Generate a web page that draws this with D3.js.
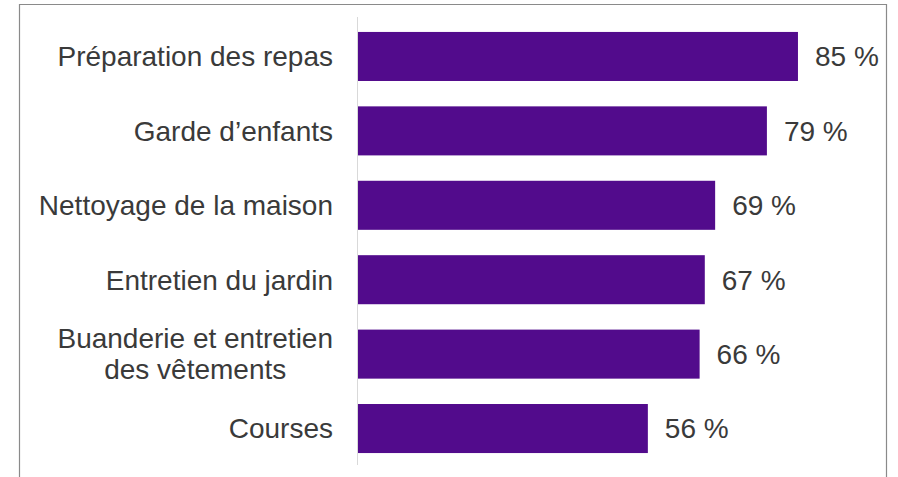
<!DOCTYPE html>
<html lang="fr">
<head>
<meta charset="utf-8">
<script src="https://cdn.jsdelivr.net/npm/d3@7"></script>
<style>
  html, body { margin: 0; padding: 0; background: #fff; }
  svg { display: block; }
  text { font-family: "Liberation Sans", Arial, sans-serif; fill: #3a3a3a; }
</style>
</head>
<body>
<svg id="chart" width="898" height="477"></svg>
<script>
// Part des tâches domestiques (en %)
const categories = [
  ["Préparation des repas"],
  ["Garde d’enfants"],
  ["Nettoyage de la maison"],
  ["Entretien du jardin"],
  ["Buanderie et entretien", "des vêtements"],
  ["Courses"]
];
const values = [85, 79, 69, 67, 66, 56];
const valueLabels = ["85 %", "79 %", "69 %", "67 %", "66 %", "56 %"];

const W = 898, H = 477;
const svg = d3.select("#chart");

// Frame around the chart (open at the bottom)
svg.append("path")
  .attr("d", `M19.5,${H} V4.5 H886.5 V${H}`)
  .attr("fill", "none")
  .attr("stroke", "#8a8a8a")
  .attr("stroke-width", 1.2);

const axisX = 358;
const x = d3.scaleLinear().domain([0, 100]).range([axisX, axisX + 517.6]);
const y = d3.scaleBand()
  .domain(d3.range(categories.length))
  .range([19.3, 465.7])
  .paddingInner(0.341)
  .paddingOuter(0.17);

// Vertical category axis line
svg.append("line")
  .attr("x1", axisX - 0.5).attr("x2", axisX - 0.5)
  .attr("y1", 17).attr("y2", 465)
  .attr("stroke", "#d9d9d9")
  .attr("stroke-width", 1);

// Bars
svg.append("g").selectAll("rect")
  .data(values)
  .join("rect")
  .attr("x", x(0))
  .attr("y", (d, i) => y(i))
  .attr("width", d => x(d) - x(0))
  .attr("height", y.bandwidth())
  .attr("fill", "#520b8c");

const fontSize = 28;
const lineH = 31;
const labelRight = axisX - 25;

// Category labels: each block is right-aligned against the axis,
// lines within a block are centred on one another
const cat = svg.append("g").selectAll("text")
  .data(categories)
  .join("text")
  .attr("text-anchor", "middle")
  .attr("font-size", fontSize)
  .attr("y", (d, i) => y(i) + y.bandwidth() / 2);

cat.selectAll("tspan")
  .data((lines) => lines.map((t, k) => ({ t, k, n: lines.length })))
  .join("tspan")
  .attr("dy", d => d.k === 0 ? (0.35 * fontSize - (d.n - 1) * lineH / 2) : lineH)
  .text(d => d.t);

cat.each(function () {
  const spans = d3.select(this).selectAll("tspan").nodes();
  const widest = d3.max(spans, s => s.getComputedTextLength());
  d3.select(this).selectAll("tspan").attr("x", labelRight - widest / 2);
});

// Value labels at the end of each bar
svg.append("g").selectAll("text")
  .data(values)
  .join("text")
  .attr("x", d => x(d) + 17)
  .attr("y", (d, i) => y(i) + y.bandwidth() / 2)
  .attr("dy", "0.35em")
  .attr("font-size", fontSize)
  .text((d, i) => valueLabels[i]);
</script>
</body>
</html>
